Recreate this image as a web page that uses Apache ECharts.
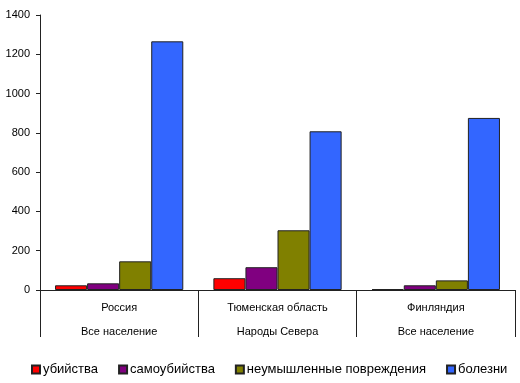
<!DOCTYPE html>
<html><head><meta charset="utf-8">
<script src="https://cdn.jsdelivr.net/npm/echarts@6/dist/echarts.min.js"></script>
<style>html,body{margin:0;padding:0;background:#fff}#c{width:520px;height:383px}</style>
</head><body><div id="c"></div>
<script>
const categories = ['Россия\nВсе население', 'Тюменская область\nНароды Севера', 'Финляндия\nВсе население'];
const seriesNames = ['убийства', 'самоубийства', 'неумышленные повреждения', 'болезни'];
const killings = [24, 60, 4];
const suicides = [34, 116, 24];
const injuries = [146, 304, 49];
const diseases = [1266, 808, 876];
const yTicks = [0, 200, 400, 600, 800, 1000, 1200, 1400];
const colors = ['#FF0000', '#800080', '#808000', '#3366FF'];
const values = [killings, suicides, injuries, diseases];

const chart = echarts.init(document.getElementById('c'));
const font = 'Liberation Sans, Arial, sans-serif';
chart.setOption({
  animation: false,
  textStyle: {fontFamily: font},
  grid: {left: 40, right: 5, top: 15, bottom: 93},
  xAxis: {
    type: 'category', data: categories, boundaryGap: true,
    axisLine: {show: true, lineStyle: {color: '#222', width: 1}},
    axisTick: {show: true, interval: 0, alignWithLabel: false, length: 47, lineStyle: {color: '#222', width: 1}},
    axisLabel: {color: '#000', fontSize: 11, lineHeight: 24, margin: 6, interval: 0, fontFamily: font}
  },
  yAxis: {
    type: 'value', min: yTicks[0], max: yTicks[yTicks.length - 1], interval: 200,
    axisLine: {show: true, lineStyle: {color: '#222'}},
    axisTick: {show: true, length: 4, lineStyle: {color: '#222'}},
    splitLine: {show: false},
    axisLabel: {color: '#000', fontSize: 11, margin: 10, fontFamily: font, formatter: v => String(v)}
  },
  legend: {
    left: 26, top: 358, itemWidth: 8, itemHeight: 8, itemGap: 20,
    icon: 'rect',
    textStyle: {fontSize: 13, color: '#000', padding: [0, 0, 0, -2], fontFamily: font},
    data: seriesNames
  },
  series: seriesNames.map((n, i) => ({
    name: n, type: 'bar', data: values[i],
    barGap: '0%', barCategoryGap: '19%',
    itemStyle: {color: colors[i], borderColor: '#222', borderWidth: 1}
  }))
});
</script></body></html>
